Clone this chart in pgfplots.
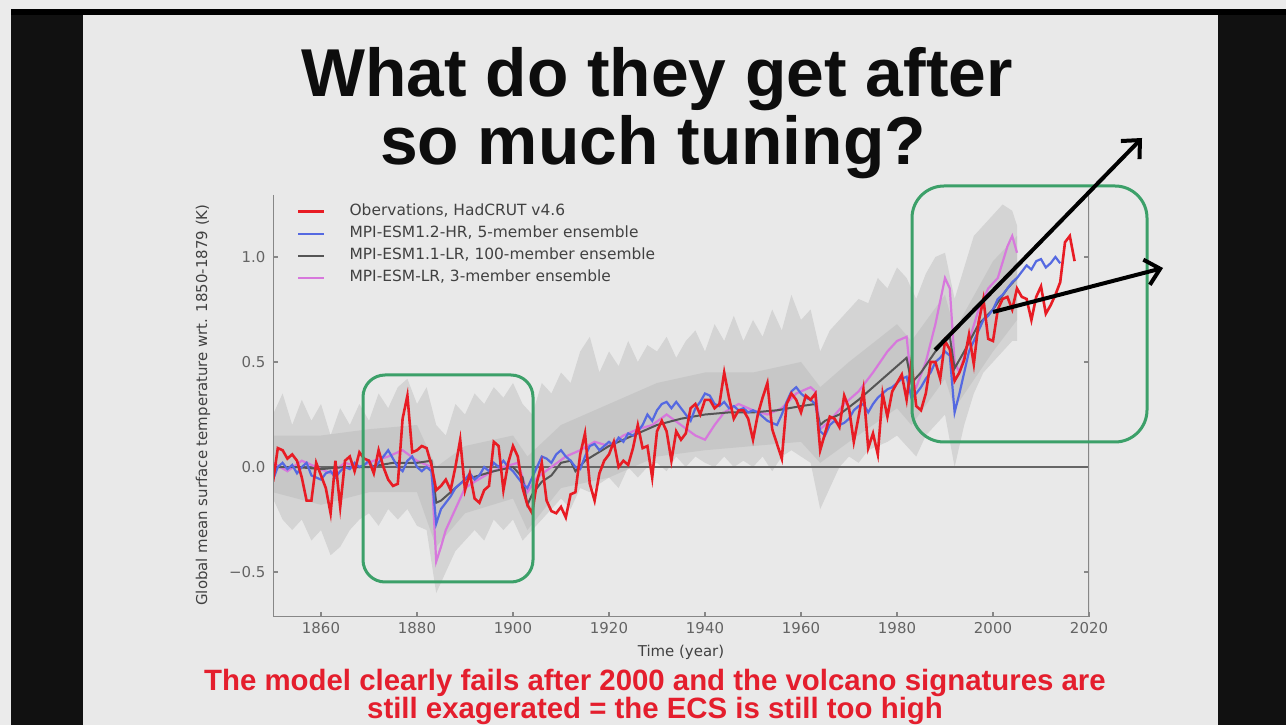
\documentclass[border=0pt]{standalone}
\usepackage{pgfplots}
\pgfplotsset{compat=1.18}
\usetikzlibrary{arrows.meta}
\usepackage{fontspec}
\setmainfont{DejaVu Sans}
\newfontfamily\slidefont{Liberation Sans}

\definecolor{slidebg}{RGB}{233,233,233}
\definecolor{obsred}{RGB}{232,28,36}
\definecolor{hrblue}{RGB}{85,105,225}
\definecolor{lrgrey}{RGB}{85,85,85}
\definecolor{lrpink}{RGB}{215,120,220}
\definecolor{ensA}{RGB}{212,212,212}
\definecolor{ensB}{RGB}{199,199,199}
\definecolor{boxgreen}{RGB}{60,160,105}
\definecolor{spine}{RGB}{135,135,135}
\definecolor{ticktext}{RGB}{100,100,100}
\definecolor{legtext}{RGB}{65,65,65}
\definecolor{txtred}{RGB}{228,30,45}
\definecolor{frame}{RGB}{17,17,17}

\begin{document}
\begin{tikzpicture}
\useasboundingbox (0bp,0bp) rectangle (1286bp,725bp);
% slide frame
\fill[frame] (0bp,0bp) rectangle (1286bp,725bp);
\fill[white!92!black] (0bp,0bp) rectangle (11bp,725bp);
\fill[white!92!black] (0bp,716bp) rectangle (1286bp,725bp);
\fill[black] (11bp,710bp) rectangle (1286bp,716bp);
\fill[slidebg] (83bp,0bp) rectangle (1218bp,710bp);

\begin{axis}[
  at={(273bp,108bp)}, anchor=south west,
  scale only axis, width=816bp, height=422bp,
  xmin=1850, xmax=2020, ymin=-0.714, ymax=1.295,
  axis line style={draw=none},
  xtick={1860,1880,1900,1920,1940,1960,1980,2000,2020},
  xticklabels={1860,1880,1900,1920,1940,1960,1980,2000,2020},
  ytick={-0.5,0,0.5,1},
  yticklabels={−0.5,0.0,0.5,1.0},
  xtick pos=lower, ytick pos=both, yticklabel pos=left,
  tick align=inside, major tick length=5bp,
  every tick/.style={spine, line width=1.2bp},
  tick label style={font=\fontsize{15}{15}\selectfont, text=ticktext},
  yticklabel style={xshift=-4bp},
  xticklabel style={yshift=-2bp},
  legend style={draw=none, fill=none, at={(0.0294,0.977)}, anchor=north west,
    inner sep=0pt, outer sep=0pt, column sep=24bp, row sep=8bp,
    nodes={inner sep=0pt, text height=11bp, text depth=3bp, font=\fontsize{15.5}{15.5}\selectfont, text=legtext}},
  legend cell align=left,
  legend image code/.code={\draw[#1] (0bp,0bp) -- (26bp,0bp);},
]
% ensemble envelope (outer): upper edge forward, lower edge backward
\addplot[fill=ensA, draw=none, forget plot] coordinates {
(1850,0.25) (1852,0.35) (1854,0.2) (1856,0.32) (1858,0.22) (1860,0.3) (1862,0.15) (1864,0.28) (1866,0.2) (1868,0.3)
(1870,0.22) (1872,0.35) (1874,0.28) (1876,0.38) (1878,0.42) (1880,0.3) (1882,0.38) (1884,0.2) (1886,0.15) (1888,0.3)
(1890,0.25) (1892,0.35) (1894,0.3) (1896,0.38) (1898,0.33) (1900,0.4) (1902,0.3) (1904,0.25) (1906,0.4) (1908,0.35)
(1910,0.45) (1912,0.4) (1914,0.55) (1916,0.62) (1918,0.45) (1920,0.55) (1922,0.48) (1924,0.6) (1926,0.5) (1928,0.58)
(1930,0.55) (1932,0.62) (1934,0.52) (1936,0.6) (1938,0.65) (1940,0.55) (1942,0.68) (1944,0.6) (1946,0.72) (1948,0.6)
(1950,0.7) (1952,0.62) (1954,0.75) (1956,0.65) (1958,0.82) (1960,0.7) (1962,0.75) (1964,0.55) (1966,0.65) (1968,0.7)
(1970,0.75) (1972,0.8) (1974,0.78) (1976,0.9) (1978,0.85) (1980,0.95) (1982,0.9) (1984,0.8) (1986,0.92) (1988,1.0)
(1990,1.02) (1992,0.8) (1994,0.95) (1996,1.1) (1998,1.15) (2000,1.2) (2002,1.25) (2004,1.22) (2005,1.15)
(2005,0.6) (2004,0.6) (2002,0.55) (2000,0.5) (1998,0.45) (1996,0.35) (1994,0.2) (1992,0.0) (1990,0.25) (1988,0.2)
(1986,0.15) (1984,0.05) (1982,0.1) (1980,0.15) (1978,0.12) (1976,0.1) (1974,0.08) (1972,0.02) (1970,0.05) (1968,0.0)
(1966,-0.1) (1964,-0.2) (1962,0.02) (1960,0.05) (1958,0.08) (1956,0.05) (1954,-0.02) (1952,0.05) (1950,0.0) (1948,0.03)
(1946,0.0) (1944,0.05) (1942,0.0) (1940,0.02) (1938,0.05) (1936,0.0) (1934,0.05) (1932,-0.02) (1930,0.02) (1928,0.0)
(1926,-0.05) (1924,0.0) (1922,-0.1) (1920,-0.05) (1918,-0.08) (1916,-0.12) (1914,-0.1) (1912,-0.2) (1910,-0.15) (1908,-0.2)
(1906,-0.25) (1904,-0.3) (1902,-0.35) (1900,-0.25) (1898,-0.3) (1896,-0.25) (1894,-0.35) (1892,-0.3) (1890,-0.35) (1888,-0.4)
(1886,-0.5) (1884,-0.6) (1882,-0.3) (1880,-0.28) (1878,-0.2) (1876,-0.25) (1874,-0.2) (1872,-0.28) (1870,-0.22) (1868,-0.25)
(1866,-0.3) (1864,-0.38) (1862,-0.42) (1860,-0.3) (1858,-0.35) (1856,-0.25) (1854,-0.3) (1852,-0.25) (1850,-0.15)} -- cycle;
% ensemble inner band
\addplot[fill=ensB, draw=none, forget plot] coordinates {
(1850,0.15) (1860,0.15) (1870,0.18) (1880,0.2) (1884,0.0) (1890,0.1) (1900,0.15) (1903,0.05) (1910,0.2) (1920,0.3)
(1930,0.4) (1940,0.45) (1950,0.45) (1960,0.5) (1964,0.38) (1970,0.5) (1980,0.68) (1983,0.6) (1990,0.82) (1992,0.65)
(2000,0.98) (2005,1.1)
(2005,0.7) (2000,0.55) (1992,0.28) (1990,0.42) (1983,0.2) (1980,0.28) (1970,0.12) (1964,0.02) (1960,0.12) (1950,0.1)
(1940,0.08) (1930,0.05) (1920,-0.05) (1910,-0.1) (1903,-0.3) (1900,-0.15) (1890,-0.22) (1884,-0.38) (1880,-0.12) (1870,-0.12)
(1860,-0.18) (1850,-0.12)} -- cycle;
% zero line
\addplot[lrgrey!90, line width=1.4bp, forget plot] coordinates {(1850,0) (2020,0)};

\addlegendimage{obsred, line width=2.6bp}
\addlegendentry{Obervations, HadCRUT v4.6}
\addlegendimage{hrblue, line width=2.2bp}
\addlegendentry{MPI-ESM1.2-HR, 5-member ensemble}
\addlegendimage{lrgrey, line width=2.2bp}
\addlegendentry{MPI-ESM1.1-LR, 100-member ensemble}
\addlegendimage{lrpink, line width=2.2bp}
\addlegendentry{MPI-ESM-LR, 3-member ensemble}

% MPI-ESM-LR (pink)
\addplot[lrpink, line width=2.2bp, forget plot] coordinates {
(1850,0.02) (1853,-0.02) (1856,0.03) (1859,0.0) (1862,-0.03) (1865,0.02) (1868,0.0) (1871,0.03) (1874,0.05) (1877,0.08)
(1880,0.03) (1883,0.0) (1884,-0.45) (1885,-0.38) (1886,-0.3) (1887,-0.25) (1888,-0.2) (1889,-0.15) (1890,-0.1) (1892,-0.07)
(1895,-0.03) (1898,0.0) (1901,0.02) (1903,-0.12) (1905,-0.05) (1908,0.0) (1911,0.05) (1914,0.08) (1917,0.12) (1920,0.1)
(1923,0.15) (1926,0.18) (1929,0.2) (1932,0.25) (1935,0.2) (1938,0.15) (1940,0.13) (1942,0.2) (1944,0.26) (1947,0.3)
(1950,0.27) (1953,0.25) (1956,0.28) (1959,0.35) (1962,0.38) (1963,0.36) (1964,0.18) (1966,0.22) (1969,0.3) (1972,0.36)
(1975,0.45) (1978,0.55) (1980,0.6) (1982,0.62) (1983,0.4) (1984,0.38) (1986,0.5) (1988,0.68) (1990,0.9) (1991,0.85)
(1992,0.5) (1993,0.45) (1995,0.6) (1997,0.75) (1999,0.85) (2001,0.9) (2003,1.05) (2004,1.1) (2005,1.02)};
% MPI-ESM1.1-LR mean (dark grey)
\addplot[lrgrey, line width=2bp, forget plot] coordinates {
(1850,0.0) (1855,0.0) (1860,-0.01) (1865,0.0) (1870,0.0) (1875,0.02) (1880,0.02) (1883,0.03) (1884,-0.17) (1885,-0.16)
(1886,-0.14) (1888,-0.1) (1890,-0.06) (1893,-0.04) (1896,-0.02) (1900,0.0) (1902,-0.05) (1903,-0.18) (1904,-0.13) (1906,-0.07)
(1908,-0.04) (1910,0.02) (1912,0.03) (1913,-0.02) (1915,0.03) (1920,0.1) (1925,0.15) (1930,0.2) (1935,0.23) (1940,0.25)
(1945,0.26) (1950,0.26) (1955,0.27) (1960,0.29) (1963,0.3) (1964,0.2) (1965,0.22) (1968,0.25) (1972,0.32) (1976,0.4)
(1980,0.48) (1982,0.52) (1983,0.4) (1985,0.45) (1988,0.55) (1991,0.62) (1992,0.47) (1994,0.55) (1997,0.68) (2000,0.75)
(2003,0.85) (2005,0.9)};
% MPI-ESM1.2-HR (blue)
\addplot[hrblue, line width=2.2bp, forget plot] coordinates {
(1850,-0.06) (1851,0.0) (1852,0.02) (1853,-0.01) (1854,0.01) (1855,-0.03) (1856,0.0) (1857,0.02) (1858,-0.04) (1859,-0.05)
(1860,-0.06) (1861,-0.03) (1862,-0.02) (1863,-0.05) (1864,-0.02) (1865,0.0) (1866,-0.01) (1867,0.02) (1868,0.0) (1869,0.01)
(1870,0.03) (1871,-0.01) (1872,0.02) (1873,0.05) (1874,0.08) (1875,0.04) (1876,0.0) (1877,-0.02) (1878,0.03) (1879,0.05)
(1880,0.0) (1881,-0.02) (1882,0.0) (1883,-0.02) (1884,-0.27) (1885,-0.2) (1886,-0.17) (1887,-0.14) (1888,-0.1) (1889,-0.08)
(1890,-0.06) (1891,-0.03) (1892,-0.06) (1893,-0.04) (1894,0.0) (1895,-0.02) (1896,0.02) (1897,0.0) (1898,0.03) (1899,0.0)
(1900,-0.02) (1901,-0.05) (1902,-0.08) (1903,-0.1) (1904,-0.05) (1905,0.0) (1906,0.05) (1907,0.04) (1908,0.02) (1909,0.06)
(1910,0.08) (1911,0.05) (1912,0.03) (1913,0.0) (1914,-0.01) (1915,0.05) (1916,0.1) (1917,0.11) (1918,0.08) (1919,0.1)
(1920,0.12) (1921,0.1) (1922,0.14) (1923,0.12) (1924,0.16) (1925,0.15) (1926,0.17) (1927,0.2) (1928,0.25) (1929,0.22)
(1930,0.27) (1931,0.3) (1932,0.31) (1933,0.28) (1934,0.31) (1935,0.28) (1936,0.25) (1937,0.22) (1938,0.28) (1939,0.31)
(1940,0.35) (1941,0.34) (1942,0.3) (1943,0.29) (1944,0.31) (1945,0.28) (1946,0.29) (1947,0.27) (1948,0.28) (1949,0.26)
(1950,0.27) (1951,0.26) (1952,0.24) (1953,0.22) (1954,0.21) (1955,0.2) (1956,0.25) (1957,0.31) (1958,0.36) (1959,0.38)
(1960,0.35) (1961,0.33) (1962,0.32) (1963,0.3) (1964,0.17) (1965,0.15) (1966,0.2) (1967,0.22) (1968,0.2) (1969,0.21)
(1970,0.23) (1971,0.27) (1972,0.29) (1973,0.3) (1974,0.26) (1975,0.3) (1976,0.33) (1977,0.35) (1978,0.37) (1979,0.38)
(1980,0.4) (1981,0.42) (1982,0.43) (1983,0.33) (1984,0.35) (1985,0.38) (1986,0.42) (1987,0.45) (1988,0.5) (1989,0.52)
(1990,0.55) (1991,0.53) (1992,0.26) (1993,0.35) (1994,0.45) (1995,0.55) (1996,0.6) (1997,0.65) (1998,0.7) (1999,0.72)
(2000,0.75) (2001,0.8) (2002,0.82) (2003,0.85) (2004,0.88) (2005,0.9) (2006,0.93) (2007,0.96) (2008,0.94) (2009,0.98)
(2010,0.99) (2011,0.95) (2012,0.97) (2013,1.0) (2014,0.97)};
% Observations HadCRUT4.6 (red)
\addplot[obsred, line width=2.6bp, forget plot] coordinates {
(1850,-0.07) (1851,0.09) (1852,0.08) (1853,0.04) (1854,0.06) (1855,0.03) (1856,-0.05) (1857,-0.16) (1858,-0.16) (1859,0.02)
(1860,-0.04) (1861,-0.10) (1862,-0.22) (1863,0.03) (1864,-0.19) (1865,0.03) (1866,0.05) (1867,-0.02) (1868,0.07) (1869,0.04)
(1870,0.03) (1871,-0.03) (1872,0.08) (1873,0.00) (1874,-0.06) (1875,-0.09) (1876,-0.08) (1877,0.23) (1878,0.34) (1879,0.07)
(1880,0.08) (1881,0.10) (1882,0.09) (1883,0.01) (1884,-0.11) (1885,-0.09) (1886,-0.06) (1887,-0.11) (1888,0.00) (1889,0.13)
(1890,-0.11) (1891,-0.03) (1892,-0.15) (1893,-0.17) (1894,-0.11) (1895,-0.09) (1896,0.12) (1897,0.10) (1898,-0.11) (1899,0.02)
(1900,0.10) (1901,0.05) (1902,-0.10) (1903,-0.18) (1904,-0.22) (1905,-0.07) (1906,0.02) (1907,-0.16) (1908,-0.21) (1909,-0.22)
(1910,-0.19) (1911,-0.24) (1912,-0.13) (1913,-0.12) (1914,0.06) (1915,0.16) (1916,-0.08) (1917,-0.16) (1918,-0.03) (1919,0.03)
(1920,0.06) (1921,0.12) (1922,0.00) (1923,0.03) (1924,0.01) (1925,0.09) (1926,0.20) (1927,0.09) (1928,0.10) (1929,-0.05)
(1930,0.17) (1931,0.22) (1932,0.17) (1933,0.03) (1934,0.17) (1935,0.13) (1936,0.16) (1937,0.28) (1938,0.30) (1939,0.25)
(1940,0.32) (1941,0.32) (1942,0.28) (1943,0.30) (1944,0.45) (1945,0.33) (1946,0.23) (1947,0.27) (1948,0.27) (1949,0.23)
(1950,0.13) (1951,0.25) (1952,0.33) (1953,0.40) (1954,0.18) (1955,0.11) (1956,0.04) (1957,0.30) (1958,0.35) (1959,0.32)
(1960,0.26) (1961,0.34) (1962,0.32) (1963,0.35) (1964,0.08) (1965,0.16) (1966,0.24) (1967,0.23) (1968,0.19) (1969,0.34)
(1970,0.28) (1971,0.12) (1972,0.24) (1973,0.37) (1974,0.09) (1975,0.16) (1976,0.06) (1977,0.35) (1978,0.24) (1979,0.36)
(1980,0.40) (1981,0.44) (1982,0.32) (1983,0.50) (1984,0.29) (1985,0.27) (1986,0.35) (1987,0.50) (1988,0.50) (1989,0.42)
(1990,0.60) (1991,0.56) (1992,0.41) (1993,0.45) (1994,0.51) (1995,0.63) (1996,0.49) (1997,0.69) (1998,0.80) (1999,0.61)
(2000,0.60) (2001,0.75) (2002,0.80) (2003,0.81) (2004,0.75) (2005,0.85) (2006,0.81) (2007,0.80) (2008,0.70) (2009,0.81)
(2010,0.86) (2011,0.73) (2012,0.77) (2013,0.82) (2014,0.88) (2015,1.07) (2016,1.10) (2017,0.98)};

% spines: left, bottom, right (no top)
\draw[spine, line width=1.8bp] (rel axis cs:0,1) -- (rel axis cs:0,0) -- (rel axis cs:1,0) -- (rel axis cs:1,1);
\end{axis}

% axis titles
\node[font=\fontsize{15}{15}\selectfont, text=legtext] at (681bp,73bp) {Time (year)};
\node[rotate=90, font=\fontsize{15}{15}\selectfont, text=legtext] at (203bp,320bp) {Global mean surface temperature wrt. 1850-1879 (K)};

% slide title
\node[anchor=base, font=\slidefont\bfseries\fontsize{68}{68}\selectfont, text=black!95] at (657bp,628bp) {What do they get after};
\node[anchor=base, font=\slidefont\bfseries\fontsize{68}{68}\selectfont, text=black!95] at (653bp,560bp) {so much tuning?};

% annotations
\draw[boxgreen, line width=3bp, rounded corners=22bp] (363bp,143bp) rectangle (533bp,350bp);
\draw[boxgreen, line width=3bp, rounded corners=32bp] (912bp,283bp) rectangle (1147bp,539bp);
\draw[line width=4bp, -{Straight Barb[length=14bp,width=26bp]}] (935bp,375bp) -- (1142bp,587bp);
\draw[line width=4bp, -{Straight Barb[length=14bp,width=26bp]}] (993bp,413bp) -- (1163bp,457bp);

% bottom comment
\node[anchor=base, font=\slidefont\bfseries\fontsize{29.5}{29.5}\selectfont, text=txtred] at (655bp,35bp) {The model clearly fails after 2000 and the volcano signatures are};
\node[anchor=base, font=\slidefont\bfseries\fontsize{29.5}{29.5}\selectfont, text=txtred] at (655bp,7bp) {still exagerated = the ECS is still too high};
\end{tikzpicture}
\end{document}
